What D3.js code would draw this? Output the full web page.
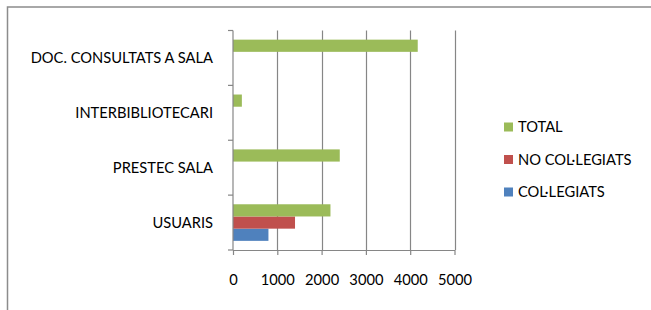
<!DOCTYPE html>
<html>
<head>
<meta charset="utf-8">
<script src="https://cdn.jsdelivr.net/npm/d3@7"></script>
<style>
  html, body { margin: 0; padding: 0; background: #fff; }
  svg text { font-family: Lato, "Open Sans", sans-serif; fill: #000; }
</style>
</head>
<body>
<svg id="chart" width="651" height="310"></svg>
<script>
var categories = ['USUARIS', 'PRESTEC SALA', 'INTERBIBLIOTECARI', 'DOC. CONSULTATS A SALA'];
var seriesNames = ['COL\u00b7LEGIATS', 'NO COL\u00b7LEGIATS', 'TOTAL'];
var colLegiats = [800, null, null, null];
var noColLegiats = [1400, null, null, null];
var total = [2200, 2410, 200, 4170];
var xTicks = [0, 1000, 2000, 3000, 4000, 5000];
var colors = ['#4f81bd', '#c0504d', '#9bbb59'];

(function() {
  var seriesValues = [colLegiats, noColLegiats, total];
  var W = 651, H = 310;
  var plotLeft = 233, plotRight = 454.5, plotTop = 30.5, plotBottom = 250;
  var fontSize = 14.7;

  var svg = d3.select('#chart');

  // outer frame (only top and left edges are visible)
  svg.append('path')
    .attr('d', 'M7.5,' + H + 'V7H' + W)
    .attr('fill', 'none').attr('stroke', '#8c8c8c').attr('stroke-width', 1.5);

  var x = d3.scaleLinear().domain([0, 5000]).range([plotLeft, plotRight]);
  var y = d3.scaleBand().domain(categories.slice().reverse()).range([plotTop, plotBottom]);
  // three bars in a band, gap width 150%
  var inner = d3.scaleBand().domain([2, 1, 0]).range([0, y.bandwidth()]).paddingOuter(0.75).paddingInner(0);

  // vertical gridlines
  svg.append('g').selectAll('line').data(xTicks.slice(1)).enter().append('line')
    .attr('x1', function(d) { return Math.round(x(d)) + 0.5; })
    .attr('x2', function(d) { return Math.round(x(d)) + 0.5; })
    .attr('y1', plotTop).attr('y2', plotBottom)
    .attr('stroke', '#868686').attr('stroke-width', 1.2);

  // bars
  seriesValues.forEach(function(vals, s) {
    var rows = vals.map(function(v, i) { return {v: v, c: categories[i]}; })
      .filter(function(d) { return d.v != null; });
    svg.append('g').selectAll('rect').data(rows).enter().append('rect')
      .attr('x', x(0))
      .attr('y', function(d) { return y(d.c) + inner(s); })
      .attr('width', function(d) { return x(d.v) - x(0); })
      .attr('height', inner.bandwidth())
      .attr('fill', colors[s]);
  });

  // x axis
  var xAxis = svg.append('g').attr('transform', 'translate(0,' + plotBottom + ')')
    .call(d3.axisBottom(x).tickValues(xTicks).tickFormat(d3.format('d'))
      .tickSize(5).tickPadding(20).tickSizeOuter(0));
  xAxis.select('.domain').attr('stroke', '#868686').attr('stroke-width', 1.2);
  xAxis.selectAll('.tick line').attr('stroke', '#868686').attr('stroke-width', 1.2);
  xAxis.selectAll('text').attr('font-size', fontSize).attr('font-family', 'Lato').attr('fill', '#000');

  // y axis, tick marks at band boundaries
  var yAxis = svg.append('g').attr('transform', 'translate(' + plotLeft + ',0)');
  yAxis.append('line').attr('x1', 0).attr('x2', 0).attr('y1', plotTop).attr('y2', plotBottom)
    .attr('stroke', '#868686').attr('stroke-width', 1.2);
  var bounds = categories.map(function(c) { return y(c); }).concat([plotBottom]);
  yAxis.selectAll('line.tk').data(bounds).enter().append('line').attr('class', 'tk')
    .attr('x1', -5).attr('x2', 0)
    .attr('y1', function(d) { return d; }).attr('y2', function(d) { return d; })
    .attr('stroke', '#868686').attr('stroke-width', 1.2);
  yAxis.selectAll('text').data(categories).enter().append('text')
    .attr('x', -20)
    .attr('y', function(c) { return y(c) + y.bandwidth() / 2; })
    .attr('dy', '0.35em')
    .attr('text-anchor', 'end')
    .attr('font-size', fontSize)
    .text(function(c) { return c; });

  // legend
  var legend = svg.append('g').attr('transform', 'translate(504,127)');
  legend.selectAll('g').data([2, 1, 0]).enter().append('g')
    .attr('transform', function(d, i) { return 'translate(0,' + (i * 32.5) + ')'; })
    .each(function(s) {
      var g = d3.select(this);
      g.append('rect').attr('x', 0).attr('y', -4.5).attr('width', 9).attr('height', 9).attr('fill', colors[s]);
      g.append('text').attr('x', 14).attr('dy', '0.35em').attr('font-size', fontSize).text(seriesNames[s]);
    });
})();
</script>
</body>
</html>
